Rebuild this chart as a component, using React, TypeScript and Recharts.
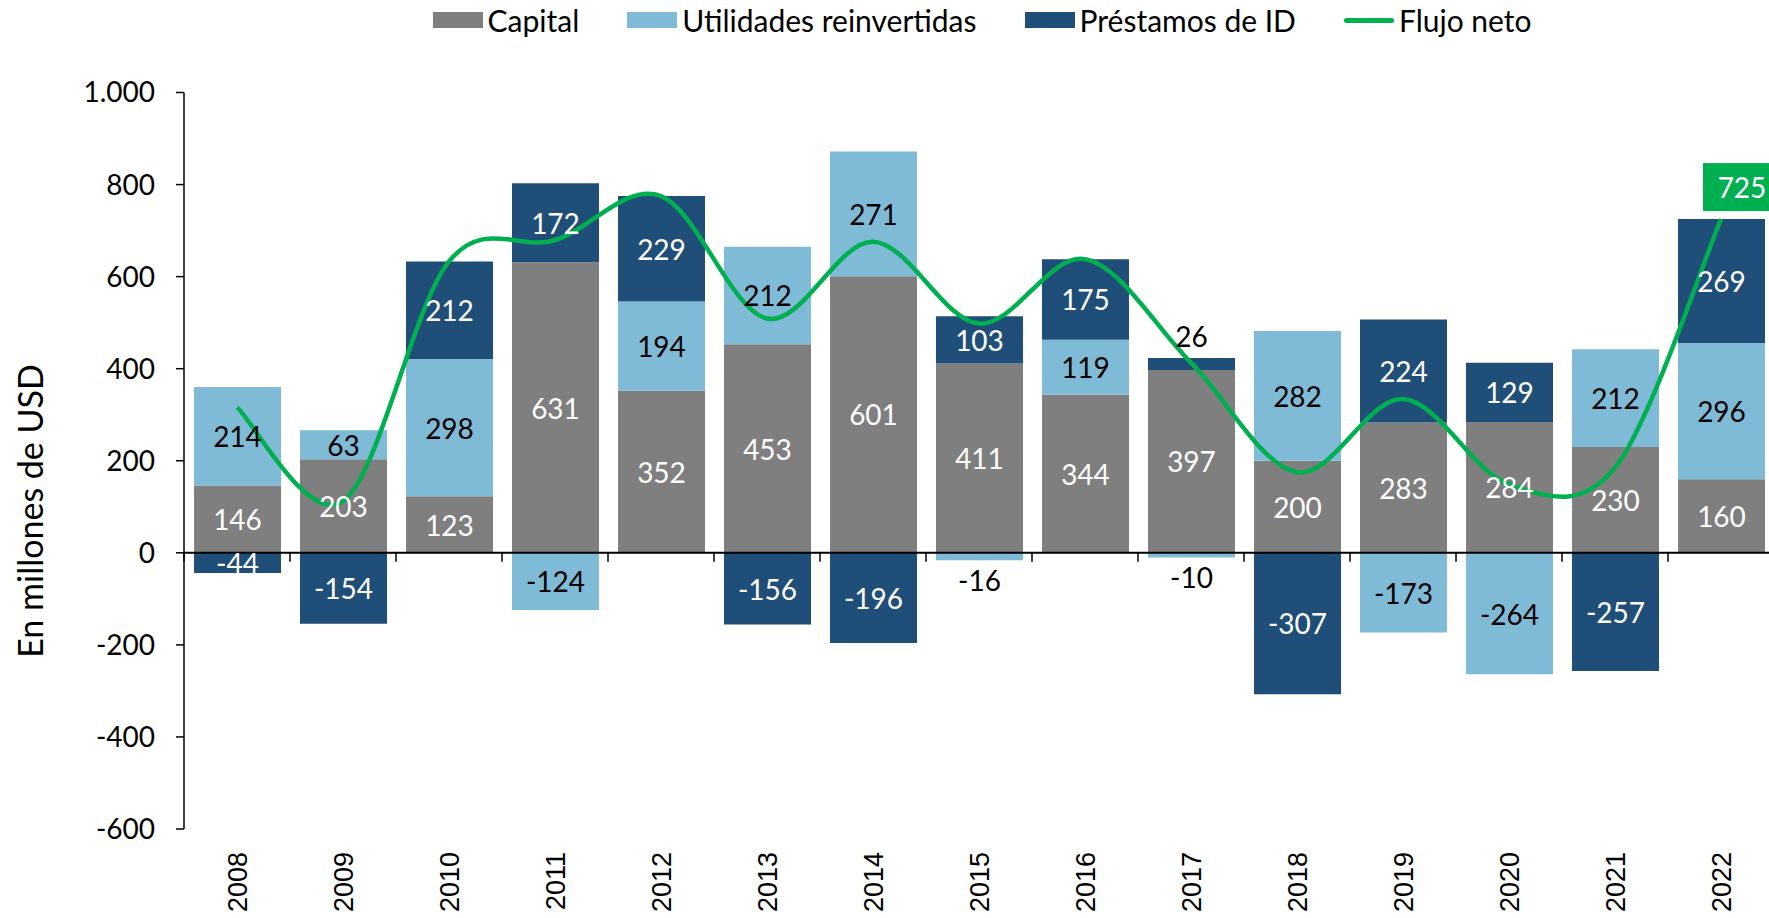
import { ComposedChart, Bar, Line, XAxis, YAxis, ReferenceLine, LabelList, Legend, Label } from "recharts";

const years = ["2008", "2009", "2010", "2011", "2012", "2013", "2014", "2015", "2016", "2017", "2018", "2019", "2020", "2021", "2022"];
const capital = [146, 203, 123, 631, 352, 453, 601, 411, 344, 397, 200, 283, 284, 230, 160];
const utilidades = [214, 63, 298, -124, 194, 212, 271, -16, 119, -10, 282, -173, -264, 212, 296];
const prestamos = [-44, -154, 212, 172, 229, -156, -196, 103, 175, 26, -307, 224, 129, -257, 269];
const flujo = [316, 112, 633, 679, 775, 509, 676, 498, 638, 413, 175, 334, 149, 185, 725];
const yTicks = [-600, -400, -200, 0, 200, 400, 600, 800, 1000];

const data = years.map((year, i) => ({
  year,
  capital: capital[i],
  utilidades: utilidades[i],
  prestamos: prestamos[i],
  flujo: flujo[i],
}));

const GREY = "#7f7f7f";
const LIGHT = "#7fbbd6";
const DARK = "#1f4e79";
const GREEN = "#00b050";
const FONT = "Lato, 'Noto Sans', sans-serif";

// layout
const W = 1775;
const H = 918;
const LEGEND_H = 40;
const PLOT_TOP = 92.5;
const X_AXIS_H = 89;
const Y_AXIS_W = 184;
const PLOT_H = H - PLOT_TOP - X_AXIS_H;
const Y_MIN = -600;
const Y_MAX = 1000;
const ZERO_Y = PLOT_TOP + (PLOT_H * Y_MAX) / (Y_MAX - Y_MIN);
const BAND = (W - Y_AXIS_W - 1) / years.length;

const fmt = (v: number) => String(v).replace(/\B(?=(\d{3})+(?!\d))/g, ".");

// Excel-style smoothed line (Catmull-Rom through the points)
function excelSmooth(context: any) {
  let pts: number[][] = [];
  return {
    areaStart() {},
    areaEnd() {},
    lineStart() {
      pts = [];
    },
    lineEnd() {
      const n = pts.length;
      if (!n) return;
      context.moveTo(pts[0][0], pts[0][1]);
      for (let i = 0; i < n - 1; i++) {
        const p0 = pts[Math.max(i - 1, 0)];
        const p1 = pts[i];
        const p2 = pts[i + 1];
        const p3 = pts[Math.min(i + 2, n - 1)];
        context.bezierCurveTo(
          p1[0] + (p2[0] - p0[0]) / 6,
          p1[1] + (p2[1] - p0[1]) / 6,
          p2[0] - (p3[0] - p1[0]) / 6,
          p2[1] - (p3[1] - p1[1]) / 6,
          p2[0],
          p2[1]
        );
      }
    },
    point(x: number, y: number) {
      pts.push([x, y]);
    },
  };
}

const segLabel = (textColor: string) => (props: any) => {
  const { x, y, width, height, value } = props;
  const top = Math.min(y, y + height);
  const bottom = Math.max(y, y + height);
  const cx = x + width / 2;
  let cy = (top + bottom) / 2;
  let fill = textColor;
  if (Math.abs(value) < 30) {
    fill = "#000";
    cy = value > 0 ? top - 22 : bottom + 20;
  }
  return (
    <text x={cx} y={cy} textAnchor="middle" dominantBaseline="central" fill={fill} fontSize={28} fontFamily={FONT}>
      {value}
    </text>
  );
};

const netLabel = (props: any) => {
  const { x, y, index, value } = props;
  if (index !== flujo.length - 1) return null;
  return (
    <g>
      <rect x={x - 18} y={y - 56} width={80} height={48} fill={GREEN} />
      <text x={x + 21} y={y - 32} textAnchor="middle" dominantBaseline="central" fill="#fff" fontSize={28} fontFamily={FONT}>
        {value}
      </text>
    </g>
  );
};

const YearTick = (props: any) => {
  const { x, y, payload } = props;
  const half = payload.offset ?? BAND / 2;
  return (
    <g>
      <line x1={x - half} x2={x - half} y1={ZERO_Y} y2={ZERO_Y + 9} stroke="#000" strokeWidth={1.5} />
      <text
        transform={`translate(${x},${y + 23}) rotate(-90)`}
        textAnchor="end"
        dy="0.36em"
        fill="#000"
        fontSize={27}
        fontFamily="'Liberation Sans', Arial, sans-serif"
      >
        {payload.value}
      </text>
    </g>
  );
};

const legendItems = [
  { name: "Capital", color: GREY, line: false },
  { name: "Utilidades reinvertidas", color: LIGHT, line: false },
  { name: "Préstamos de ID", color: DARK, line: false },
  { name: "Flujo neto", color: GREEN, line: true },
];

const renderLegend = () => (
  <div
    style={{
      display: "flex",
      justifyContent: "center",
      alignItems: "center",
      height: LEGEND_H,
      paddingLeft: 189,
      gap: 48,
      fontFamily: FONT,
      fontSize: 30,
      color: "#000",
      boxSizing: "border-box",
    }}
  >
    {legendItems.map((it) => (
      <div key={it.name} style={{ display: "flex", alignItems: "center", gap: 5 }}>
        {it.line ? (
          <div style={{ width: 50, height: 5, borderRadius: 3, background: it.color }} />
        ) : (
          <div style={{ width: 50, height: 16, background: it.color }} />
        )}
        <span>{it.name}</span>
      </div>
    ))}
  </div>
);

export default function App() {
  return (
    <div style={{ position: "absolute", left: 0, top: 0, width: 1769, height: H, overflow: "hidden", background: "#fff" }}>
      <ComposedChart
        width={W}
        height={H}
        data={data}
        stackOffset="sign"
        margin={{ top: PLOT_TOP - LEGEND_H, right: 1, bottom: 0, left: 0 }}
      >
        <Legend
          verticalAlign="top"
          content={renderLegend}
          wrapperStyle={{ top: 0, left: 0, width: W, height: LEGEND_H }}
        />
        <XAxis
          dataKey="year"
          axisLine={false}
          tickLine={false}
          tickSize={0}
          tickMargin={0}
          height={X_AXIS_H}
          interval={0}
          tick={<YearTick />}
        />
        <YAxis
          domain={[Y_MIN, Y_MAX]}
          ticks={yTicks}
          width={Y_AXIS_W}
          tickFormatter={fmt}
          axisLine={{ stroke: "#000", strokeWidth: 1.5 }}
          tickLine={{ stroke: "#000", strokeWidth: 1.5 }}
          tickSize={8}
          tickMargin={21}
          tick={{ fill: "#000", fontSize: 28, fontFamily: FONT }}
          allowDataOverflow
        >
          <Label
            content={() => (
              <text
                transform="translate(31,511) rotate(-90)"
                textAnchor="middle"
                dy="0.35em"
                fill="#000"
                fontSize={34}
                fontFamily={FONT}
              >
                En millones de USD
              </text>
            )}
          />
        </YAxis>
        <Bar dataKey="capital" stackId="a" fill={GREY} barSize={87} isAnimationActive={false}>
          <LabelList dataKey="capital" content={segLabel("#fff")} />
        </Bar>
        <Bar dataKey="utilidades" stackId="a" fill={LIGHT} barSize={87} isAnimationActive={false}>
          <LabelList dataKey="utilidades" content={segLabel("#000")} />
        </Bar>
        <Bar dataKey="prestamos" stackId="a" fill={DARK} barSize={87} isAnimationActive={false}>
          <LabelList dataKey="prestamos" content={segLabel("#fff")} />
        </Bar>
        <ReferenceLine y={0} stroke="#000" strokeWidth={2} />
        <Line
          type={excelSmooth as any}
          dataKey="flujo"
          stroke={GREEN}
          strokeWidth={4.5}
          dot={false}
          activeDot={false}
          isAnimationActive={false}
          label={netLabel}
        />
      </ComposedChart>
    </div>
  );
}
